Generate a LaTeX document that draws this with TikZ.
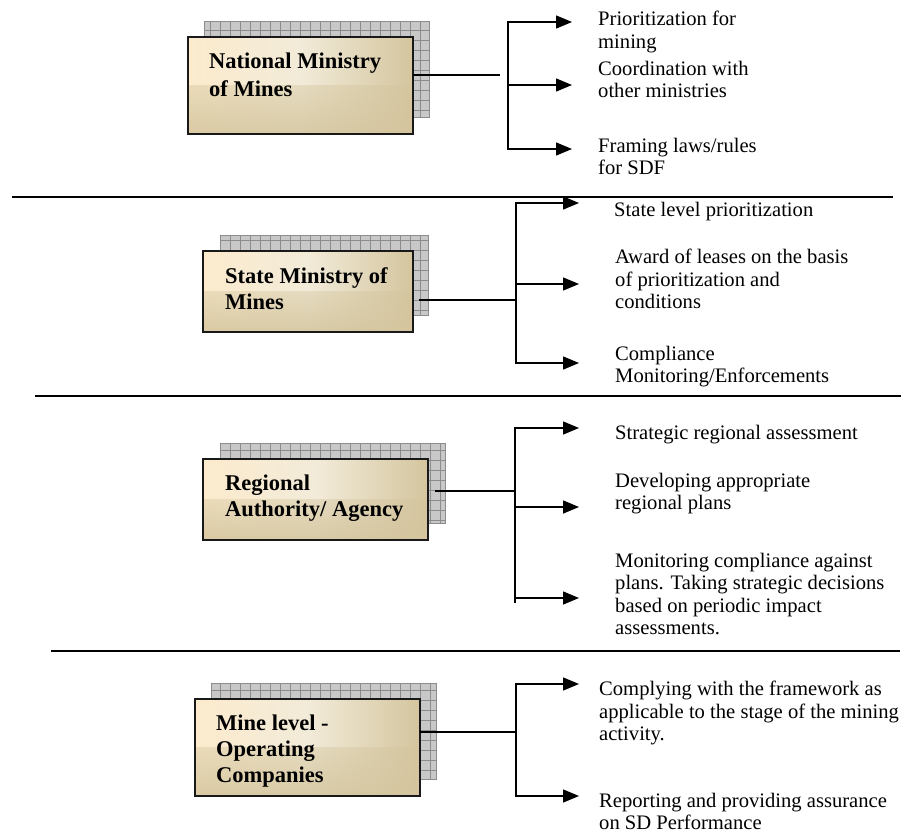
\documentclass[tikz,border=0pt]{standalone}
\usepackage{fontspec}
\setmainfont{Liberation Serif}
\usetikzlibrary{arrows.meta,fadings}
\definecolor{shadegray}{RGB}{200,200,200}
\definecolor{gridgray}{RGB}{140,140,140}
\definecolor{boxL}{RGB}{252,235,205}
\definecolor{boxM}{RGB}{242,235,217}
\definecolor{boxR}{RGB}{212,197,158}
\tikzset{
 orgbox/.style={draw=black!90, line width=1.6pt, left color=boxL, right color=boxR, middle color=boxM, inner sep=0pt, outer sep=0pt, anchor=north west,
   path picture={\fill[boxR, path fading=north, fill opacity=0.85] (path picture bounding box.south west) rectangle (path picture bounding box.east);}},
 shadowfill/.style={fill=shadegray},
 shadowgrid/.style={draw=gridgray, line width=0.6pt},
 boxtext/.style={font=\bfseries\fontsize{22.5}{26}\selectfont, align=left, inner sep=0pt, anchor=north west},
 itemtext/.style={font=\fontsize{20.6}{22.5}\selectfont, align=left, inner sep=0pt, anchor=north west},
 link/.style={line width=1.5pt},
 arr/.style={line width=1.5pt, -{Triangle[length=16pt,width=13pt]}},
 sepline/.style={line width=1.6pt},
}
\begin{document}
\begin{tikzpicture}[x=1pt,y=-1pt]
\useasboundingbox (0,0) rectangle (905,832);

% ---------- separators
\coordinate (s1a) at (12,197);  \coordinate (s1b) at (893,197);
\coordinate (s2a) at (35,396);  \coordinate (s2b) at (901,396);
\coordinate (s3a) at (51,651);  \coordinate (s3b) at (900,651);
\draw[sepline] (s1a) -- (s1b);
\draw[sepline] (s2a) -- (s2b);
\draw[sepline] (s3a) -- (s3b);

% ---------- group 1
\fill[shadowfill] (204,21) rectangle (429,117);
\draw[shadowgrid, step=10pt] (204,21) grid (429,117);
\draw[shadowgrid] (204,21) rectangle (429,117);
\node[orgbox, minimum width=225pt, minimum height=97pt] (b1) at (188,37) {};
\node[boxtext, font=\bfseries\fontsize{22.5}{28.5}\selectfont] (l1) at (209,52.6) {National Ministry\\of Mines};
\coordinate (j1) at (500,75);
\coordinate (t1) at (508,85);
\coordinate (h1a) at (572,22);
\coordinate (h1b) at (572,85);
\coordinate (h1c) at (572,149);
\draw[link] (b1.east |- j1) -- (j1);
\draw[arr] (t1) |- (h1a);
\draw[arr] (t1) -- (h1b);
\draw[arr] (t1) |- (h1c);
\node[itemtext] (i1a) at (598,10.9) {Prioritization for\\mining};
\node[itemtext] (i1b) at (598,60.9) {Coordination with\\other ministries};
\node[itemtext] (i1c) at (598,137.9) {Framing laws/rules\\for SDF};

% ---------- group 2
\fill[shadowfill] (220,235) rectangle (428,315);
\draw[shadowgrid, step=10pt] (220,235) grid (428,315);
\draw[shadowgrid] (220,235) rectangle (428,315);
\node[orgbox, minimum width=210pt, minimum height=81pt] (b2) at (203,251) {};
\node[boxtext] (l2) at (225,267.6) {State Ministry of\\Mines};
\coordinate (j2) at (516,300);
\coordinate (h2a) at (579,203);
\coordinate (h2b) at (579,284);
\coordinate (h2c) at (579,363);
\draw[link] ([xshift=6pt]b2.east |- j2) -- (j2);
\draw[arr] (j2) |- (h2a);
\draw[arr] (j2) |- (h2b);
\draw[arr] (j2) |- (h2c);
\node[itemtext] (i2a) at (614,201.9) {State level prioritization};
\node[itemtext] (i2b) at (615,248.9) {Award of leases on the basis\\of prioritization and\\conditions};
\node[itemtext] (i2c) at (615,345.9) {Compliance\\Monitoring/Enforcements};

% ---------- group 3
\fill[shadowfill] (220,443) rectangle (445,523);
\draw[shadowgrid, step=10pt] (220,443) grid (445,523);
\draw[shadowgrid] (220,443) rectangle (445,523);
\node[orgbox, minimum width=225pt, minimum height=81pt] (b3) at (203,459) {};
\node[boxtext] (l3) at (225,474.6) {Regional\\Authority/ Agency};
\coordinate (j3) at (515,491);
\coordinate (e3) at (515,603);
\coordinate (h3a) at (579,428);
\coordinate (h3b) at (579,507);
\coordinate (h3c) at (579,598);
\draw[link] ([xshift=7pt]b3.east |- j3) -- (j3);
\draw[link] (j3) -- (e3);
\draw[arr] (j3) |- (h3a);
\draw[arr] (j3) |- (h3b);
\draw[arr] (j3) |- (h3c);
\node[itemtext] (i3a) at (615,424.9) {Strategic regional assessment};
\node[itemtext] (i3b) at (615,472.9) {Developing appropriate\\regional plans};
\node[itemtext] (i3c) at (615,552.9) {Monitoring compliance against\\plans. Taking strategic decisions\\based on periodic impact\\assessments.};

% ---------- group 4
\fill[shadowfill] (211,683) rectangle (436,779);
\draw[shadowgrid, step=10pt] (211,683) grid (436,779);
\draw[shadowgrid] (211,683) rectangle (436,779);
\node[orgbox, minimum width=225pt, minimum height=97pt] (b4) at (195,699) {};
\node[boxtext] (l4) at (216,714.6) {Mine level -\\Operating\\Companies};
\coordinate (j4) at (516,732);
\coordinate (h4a) at (579,684);
\coordinate (h4b) at (579,796);
\draw[link] (b4.east |- j4) -- (j4);
\draw[arr] (j4) |- (h4a);
\draw[arr] (j4) |- (h4b);
\node[itemtext] (i4a) at (599,680.9) {Complying with the framework as\\applicable to the stage of the mining\\activity.};
\node[itemtext] (i4b) at (599,792.5) {Reporting and providing assurance\\on SD Performance};
\end{tikzpicture}
\end{document}
